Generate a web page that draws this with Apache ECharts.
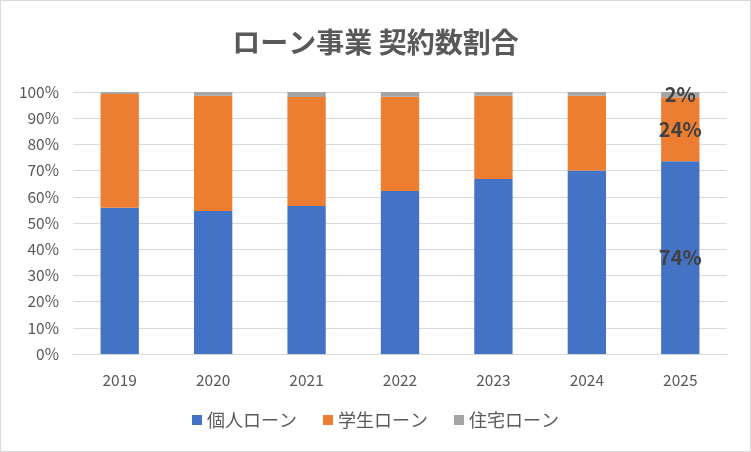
<!DOCTYPE html>
<html>
<head>
<meta charset="utf-8">
<script src="https://cdn.jsdelivr.net/npm/echarts@6/dist/echarts.min.js"></script>
<style>
  html, body { margin: 0; padding: 0; background: #fff; }
  #chart { width: 749px; height: 450px; border: 1px solid #d9d9d9; }
</style>
</head>
<body>
<div id="chart"></div>
<script>
// 年度
const years = ['2019', '2020', '2021', '2022', '2023', '2024', '2025']
// 契約数割合 (%)
const personal = [55.8, 54.6, 56.5, 62.2, 66.8, 70.0, 73.6]
const student = [43.4, 44.0, 41.6, 36.0, 31.8, 28.6, 24.4]
const housing = [0.8, 1.4, 1.9, 1.8, 1.4, 1.4, 2.0]
const seriesNames = ['個人ローン', '学生ローン', '住宅ローン']
const colors = ['#4472C4', '#ED7D31', '#A5A5A5']

const font = '"Noto Sans CJK JP", "Noto Sans", sans-serif'
const lastIdx = years.length - 1

// 2025年だけラベルを表示
const withLabel = (arr) => arr.map((v, i) => i === lastIdx
  ? { value: v, label: { show: true } }
  : v)

const makeSeries = (name, data) => ({
  name: name,
  type: 'bar',
  stack: 'total',
  barWidth: '41%',
  data: withLabel(data),
  label: {
    show: false,
    position: 'inside',
    formatter: (p) => Math.round(p.value) + '%',
    color: '#404040',
    fontSize: 20,
    fontWeight: 'bold',
    fontFamily: font
  }
})

const chart = echarts.init(document.getElementById('chart'))
chart.setOption({
  color: colors,
  textStyle: { fontFamily: font },
  title: {
    text: 'ローン事業 契約数割合',
    left: 'center',
    top: 22,
    textStyle: { color: '#595959', fontSize: 28, fontWeight: 'bold', fontFamily: font }
  },
  legend: {
    bottom: 17,
    left: 'center',
    itemWidth: 10,
    itemHeight: 10,
    itemGap: 26,
    icon: 'rect',
    textStyle: { color: '#595959', fontSize: 18, fontFamily: font },
    data: seriesNames
  },
  grid: { left: 72, right: 23, top: 91, bottom: 97 },
  xAxis: {
    type: 'category',
    data: years,
    axisLine: { lineStyle: { color: '#d9d9d9' } },
    axisTick: { show: false },
    axisLabel: { color: '#595959', fontSize: 15.5, margin: 18, fontFamily: font }
  },
  yAxis: {
    type: 'value',
    min: 0,
    max: 100,
    interval: 10,
    axisLine: { show: false },
    axisTick: { show: false },
    splitLine: { lineStyle: { color: '#d9d9d9' } },
    axisLabel: { color: '#595959', fontSize: 15.5, margin: 14, formatter: '{value}%', fontFamily: font }
  },
  series: [
    makeSeries(seriesNames[0], personal),
    makeSeries(seriesNames[1], student),
    makeSeries(seriesNames[2], housing)
  ]
})
</script>
</body>
</html>
